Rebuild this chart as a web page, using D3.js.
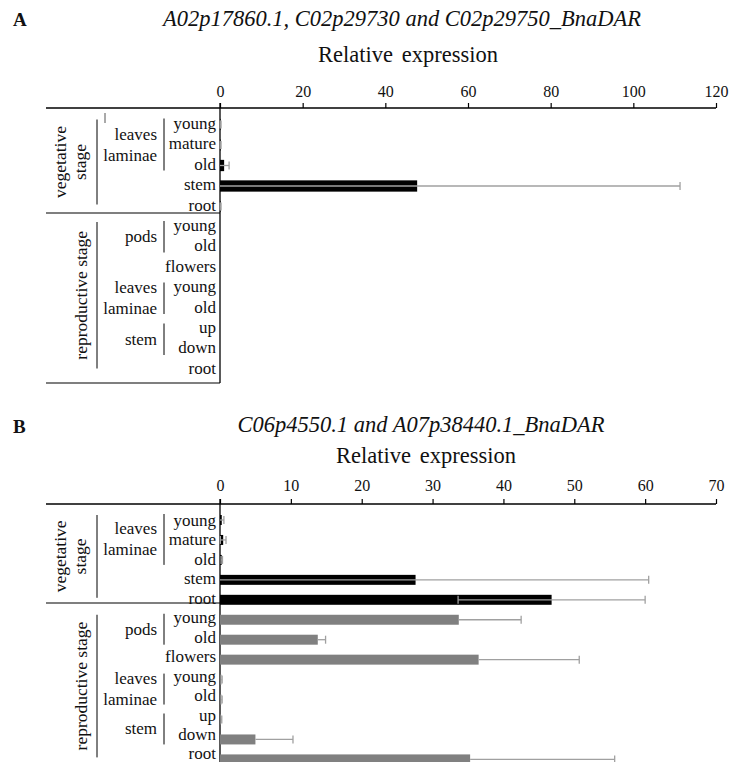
<!DOCTYPE html>
<html><head><meta charset="utf-8">
<script src="https://cdn.jsdelivr.net/npm/d3@7"></script>
</head>
<body style="margin:0;padding:0;background:#fff"><svg id="chart" width="730" height="762"></svg>
<script>
// ---------- data ----------
const rowLabels = ["young","mature","old","stem","root","young","old","flowers","young","old","up","down","root"];
const rowStage  = ["veg","veg","veg","veg","veg","rep","rep","rep","rep","rep","rep","rep","rep"];
const subGroups = [
  {labels:["leaves","laminae"], from:0, to:2},
  {labels:["pods"], from:5, to:6},
  {labels:["leaves","laminae"], from:8, to:9},
  {labels:["stem"], from:10, to:11}
];
const stageGroups = [
  {lines:["vegetative","stage"], from:0, to:4},
  {lines:["reproductive stage"], from:5, to:12}
];
const titleA = "A02p17860.1, C02p29730 and C02p29750_BnaDAR";
const titleB = "C06p4550.1 and A07p38440.1_BnaDAR";
const valuesA = [0.15,0.15,1.0,47.7,0.15,0,0,0,0,0,0,0,0];
const errorsA = [0.1,0.1,1.2,63.6,0.1,0,0,0,0,0,0,0,0];
const valuesB = [0.25,0.45,0.25,27.6,46.8,33.7,13.8,36.5,0.2,0.2,0.15,5.0,35.3];
const errorsB = [0.3,0.4,0.1,32.9,13.2,8.8,1.1,14.2,0.1,0.1,0.1,5.3,20.4];
const ticksA = [0,20,40,60,80,100,120];
const ticksB = [0,10,20,30,40,50,60,70];
const axisTitle = "Relative expression";
const stageColor = {veg:"#000000", rep:"#808080"};

const svg = d3.select("#chart");

function panel(cfg){
  const g = svg.append("g");
  const x = d3.scaleLinear().domain([0, cfg.max]).range([220, 716]);
  const y = d3.scaleBand().domain(d3.range(rowLabels.length))
      .range([cfg.firstCenter - cfg.step/2, cfg.firstCenter - cfg.step/2 + cfg.step*rowLabels.length])
      .paddingInner(cfg.pad).paddingOuter(cfg.pad/2);
  const cy = i => y(i) + y.bandwidth()/2;
  const ly = i => cfg.labelFirst + i*cfg.labelStep;

  g.append("text").attr("x",13).attr("y",cfg.letterY).attr("font-size",19).attr("font-weight","bold").text(cfg.letter);
  g.append("text").attr("x",cfg.titleX).attr("y",cfg.titleY).attr("text-anchor","middle")
    .attr("font-size",22.5).attr("font-style","italic").text(cfg.title);
  g.append("text").attr("x",cfg.axTitleX).attr("y",cfg.axTitleY).attr("text-anchor","middle")
    .attr("font-size",22.5).attr("word-spacing","3px").text(axisTitle);

  const ax = g.append("g").attr("transform",`translate(0,${cfg.axisY})`)
    .call(d3.axisTop(x).tickValues(cfg.ticks).tickSize(5).tickPadding(cfg.tickPad).tickSizeOuter(0));
  ax.select(".domain").remove();
  ax.selectAll(".tick line").attr("stroke","#000").attr("stroke-width",1.2);
  ax.selectAll(".tick text").attr("font-size",16);
  g.append("line").attr("x1",46).attr("x2",716).attr("y1",cfg.axisY).attr("y2",cfg.axisY)
    .attr("stroke","#000").attr("stroke-width",1.3);
  g.append("line").attr("x1",x(0)).attr("x2",x(0)).attr("y1",cfg.axisY-5).attr("y2",cfg.vBottom)
    .attr("stroke","#000").attr("stroke-width",1.3);
  g.append("line").attr("x1",46).attr("x2",x(0)).attr("y1",cfg.sepY).attr("y2",cfg.sepY)
    .attr("stroke","#000").attr("stroke-width",1.2);
  if(cfg.bottomY) g.append("line").attr("x1",46).attr("x2",x(0)).attr("y1",cfg.bottomY).attr("y2",cfg.bottomY)
    .attr("stroke","#000").attr("stroke-width",1.2);

  g.selectAll("rect.bar").data(cfg.values).enter().append("rect")
    .attr("x",x(0)).attr("y",(d,i)=>y(i)).attr("height",y.bandwidth())
    .attr("width",d=>x(d)-x(0)).attr("fill",(d,i)=>stageColor[rowStage[i]]);
  const eb = g.append("g").attr("stroke","#a0a0a0").attr("stroke-width",1.3);
  cfg.values.forEach((v,i)=>{
    const e = cfg.errors[i];
    if(!e) return;
    const inner = rowStage[i]==="veg";
    const lo = inner ? Math.max(0, v-e) : v, hi = v+e, c = cy(i), h = 4;
    eb.append("line").attr("x1",x(lo)).attr("x2",x(hi)).attr("y1",c).attr("y2",c);
    eb.append("line").attr("x1",x(hi)).attr("x2",x(hi)).attr("y1",c-h).attr("y2",c+h);
    if(inner && v-e>0) eb.append("line").attr("x1",x(lo)).attr("x2",x(lo)).attr("y1",c-h).attr("y2",c+h);
  });

  g.selectAll("text.row").data(rowLabels).enter().append("text")
    .attr("x",216).attr("y",(d,i)=>ly(i)).attr("text-anchor","end")
    .attr("dominant-baseline","central").attr("font-size",17).text(d=>d);

  subGroups.forEach(sg=>{
    const y1 = cy(sg.from)-6, y2 = cy(sg.to)+5, mid=(y1+y2)/2;
    g.append("line").attr("x1",164).attr("x2",164).attr("y1",y1).attr("y2",y2).attr("stroke","#000").attr("stroke-width",1);
    sg.labels.forEach((t,k)=>{
      const off = sg.labels.length===1 ? 0 : (k===0 ? -10.5 : 10.5);
      g.append("text").attr("x",157).attr("y",mid+off).attr("text-anchor","end")
       .attr("dominant-baseline","central").attr("font-size",17).text(t);
    });
  });
  stageGroups.forEach(sg=>{
    const y1 = cy(sg.from)-5, y2 = cy(sg.to)-2, mid=(y1+y2)/2;
    g.append("line").attr("x1",97).attr("x2",97).attr("y1",y1).attr("y2",y2).attr("stroke","#000").attr("stroke-width",1);
    sg.lines.forEach((t,k)=>{
      const xx = sg.lines.length===1 ? 81 : (k===0 ? 60 : 80);
      g.append("text").attr("transform",`translate(${xx},${mid}) rotate(-90)`)
       .attr("text-anchor","middle").attr("dominant-baseline","central").attr("font-size",17.5).text(t);
    });
  });
  return g;
}

const gA = panel({letter:"A", letterY:26, title:titleA, titleX:402, titleY:26, axTitleX:408, axTitleY:62,
  max:120, ticks:ticksA, axisY:108, tickPad:6, values:valuesA, errors:errorsA,
  firstCenter:124.5, step:20.5, pad:0.45, sepY:213, bottomY:383, vBottom:383, labelFirst:123.5, labelStep:20.4});
gA.append("line").attr("x1",105).attr("x2",105).attr("y1",113).attr("y2",123).attr("stroke","#555").attr("stroke-width",1);

panel({letter:"B", letterY:433, title:titleB, titleX:421, titleY:432, axTitleX:426, axTitleY:463,
  max:70, ticks:ticksB, axisY:504, tickPad:8, values:valuesB, errors:errorsB,
  firstCenter:520, step:19.95, pad:0.5, sepY:603, bottomY:null, vBottom:762, labelFirst:520.5, labelStep:19.45});

svg.selectAll("text").style("font-family",'"Liberation Serif"').style("fill","#111");
</script>
</body></html>
